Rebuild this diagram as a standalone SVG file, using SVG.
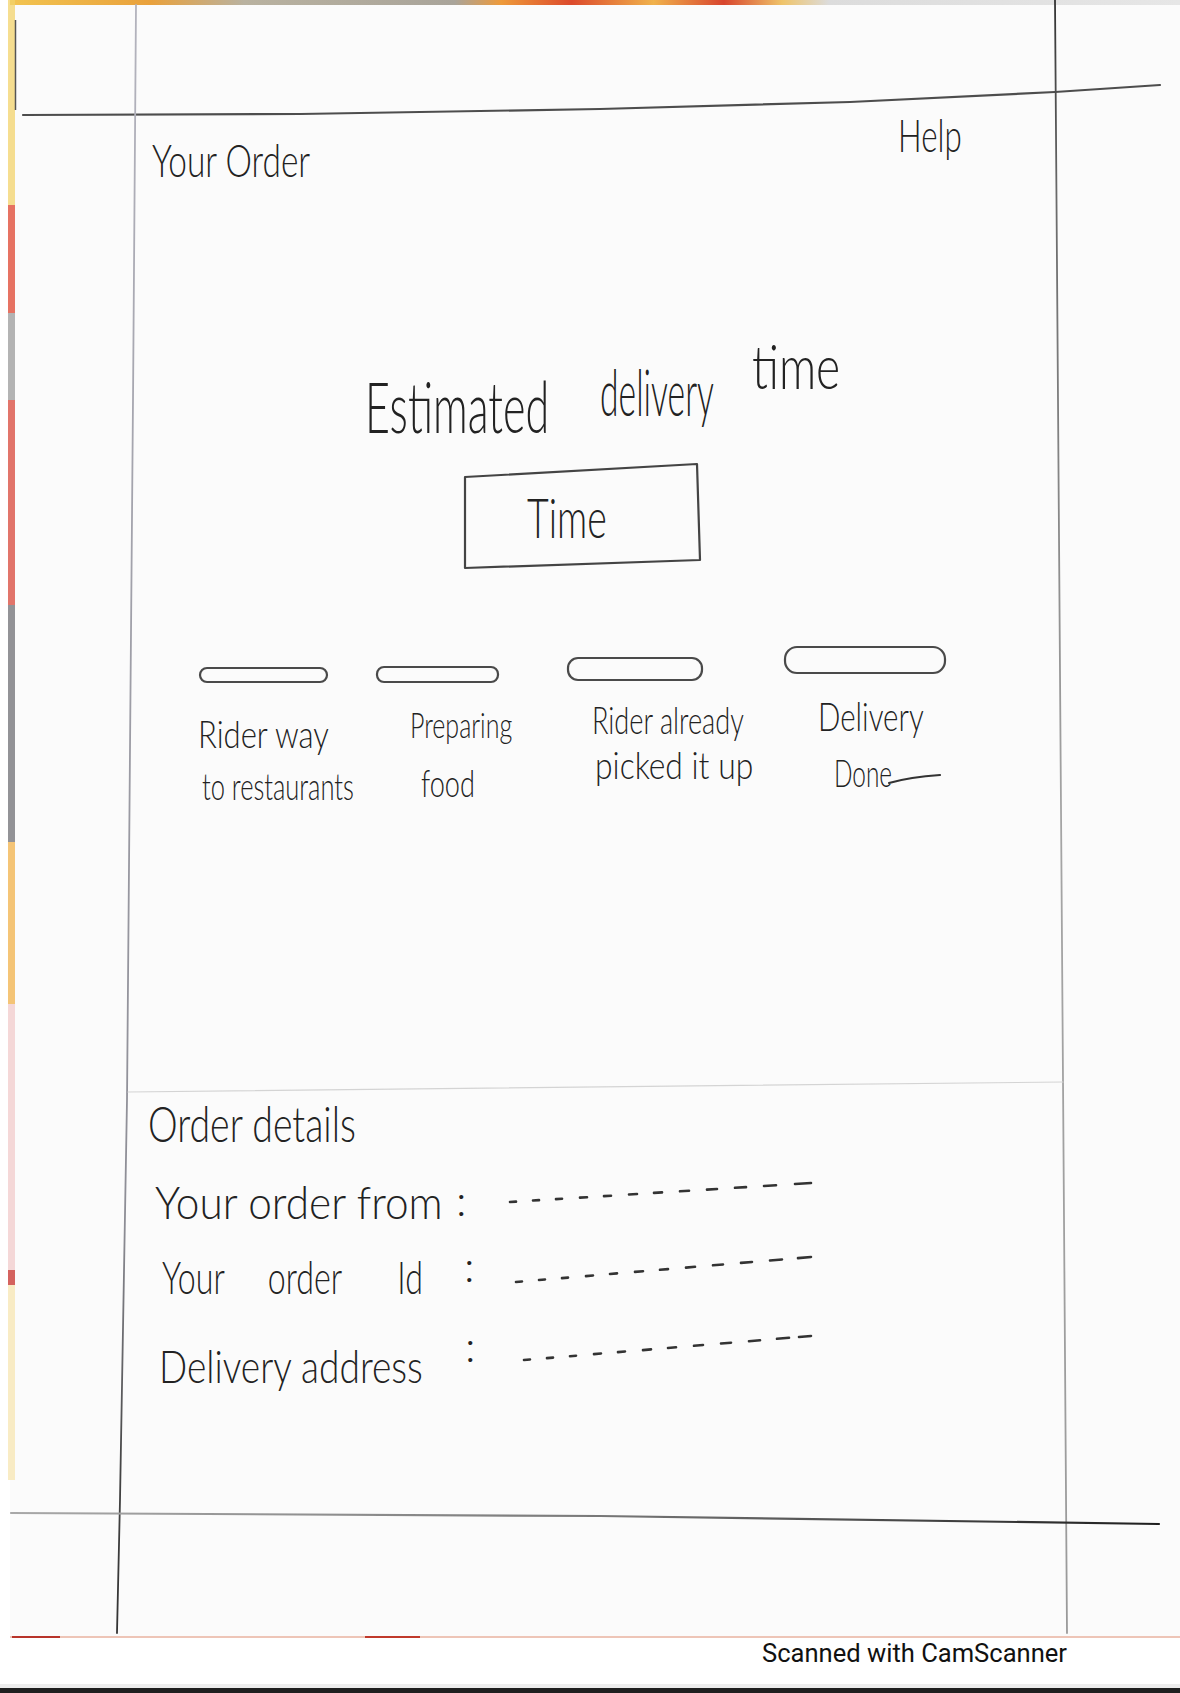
<svg xmlns="http://www.w3.org/2000/svg" width="1180" height="1693" viewBox="0 0 1180 1693">
  <defs>
    <linearGradient id="leftRule" x1="0" y1="0" x2="0" y2="1">
      <stop offset="0" stop-color="#b3b3bd"/>
      <stop offset="0.75" stop-color="#8d8d95"/>
      <stop offset="0.9" stop-color="#444"/>
      <stop offset="1" stop-color="#333"/>
    </linearGradient>
    <linearGradient id="rightRule" x1="0" y1="0" x2="0" y2="1">
      <stop offset="0" stop-color="#333"/>
      <stop offset="0.12" stop-color="#6a6a6a"/>
      <stop offset="0.5" stop-color="#a5a5a5"/>
      <stop offset="1" stop-color="#9a9a9a"/>
    </linearGradient>
    <linearGradient id="bottomRule" x1="0" y1="0" x2="1" y2="0">
      <stop offset="0" stop-color="#a8a8a8"/>
      <stop offset="0.5" stop-color="#7a7a7a"/>
      <stop offset="1" stop-color="#1e1e1e"/>
    </linearGradient>
    <linearGradient id="topEdge" x1="0" y1="0" x2="1" y2="0">
      <stop offset="0" stop-color="#f2c450"/>
      <stop offset="0.12" stop-color="#e9a13c"/>
      <stop offset="0.2" stop-color="#b9b2a0"/>
      <stop offset="0.38" stop-color="#a9a49a"/>
      <stop offset="0.42" stop-color="#ee9a3a"/>
      <stop offset="0.48" stop-color="#dc4a2c"/>
      <stop offset="0.55" stop-color="#f0b24c"/>
      <stop offset="0.61" stop-color="#d8452e"/>
      <stop offset="0.66" stop-color="#efc46a"/>
      <stop offset="0.7" stop-color="#dcdcdc"/>
      <stop offset="1" stop-color="#e6e6e6"/>
    </linearGradient>
  </defs>
  <style>
    .ink { font-family: Lato, "Open Sans", "DejaVu Sans", sans-serif; font-weight: 300; fill: #222; }
    .rule { fill: none; stroke-linecap: round; stroke-linejoin: round; }
    .pill { fill: none; stroke: #4a4a4a; stroke-width: 2.2; }
    .stroke { fill: none; stroke: #333; stroke-width: 2.2; stroke-linecap: round; }
    .dash { fill: none; stroke: #333; stroke-width: 2.6; stroke-linecap: round; }
    .edge { opacity: 0.75; }
  </style>

  <!-- paper -->
  <rect x="0" y="0" width="1180" height="1693" fill="#ffffff"/>
  <rect x="10" y="4" width="1170" height="1634" fill="#fbfbfb"/>

  <!-- scanned paper edges -->
  <g id="paper-edges">
    <rect x="10" y="0" width="1170" height="5" fill="url(#topEdge)"/>
    <g class="edge">
      <rect x="8" y="0" width="7" height="205" fill="#f3d36b"/>
      <rect x="8" y="205" width="7" height="108" fill="#e0452f"/>
      <rect x="8" y="313" width="7" height="87" fill="#9c9c9c"/>
      <rect x="8" y="400" width="7" height="205" fill="#d9473a"/>
      <rect x="8" y="605" width="7" height="237" fill="#707075"/>
      <rect x="8" y="842" width="7" height="162" fill="#f2b24a"/>
      <rect x="8" y="1004" width="7" height="266" fill="#f2cccc"/>
      <rect x="8" y="1270" width="7" height="15" fill="#c8302a"/>
      <rect x="8" y="1285" width="7" height="195" fill="#f7e6b2"/>
    </g>
    <line x1="15.5" y1="20" x2="15.5" y2="110" stroke="#555" stroke-width="1.5"/>
    <line x1="10" y1="1637" x2="1180" y2="1637" stroke="#eab3a0" stroke-width="1.6"/>
    <line x1="12" y1="1637" x2="60" y2="1637" stroke="#b8342a" stroke-width="2"/>
    <line x1="365" y1="1637" x2="420" y2="1637" stroke="#c0392b" stroke-width="2.2"/>
    <rect x="0" y="1684" width="1180" height="4" fill="#ededed"/>
    <rect x="0" y="1688" width="1180" height="5" fill="#1f1f1f"/>
  </g>

  <!-- page rules -->
  <g id="page-rules">
    <polyline class="rule" points="23,115 300,114 600,109 850,102 1055,92 1160,85" stroke="#4d4d4d" stroke-width="2.2"/>
    <polyline class="rule" points="136,5 133,400 127,1100 120,1500 117,1633" stroke="url(#leftRule)" stroke-width="1.8"/>
    <polyline class="rule" points="1055,0 1058,400 1063,1080 1067,1633" stroke="url(#rightRule)" stroke-width="1.8"/>
    <polyline class="rule" points="11,1513 600,1516 1159,1524" stroke="url(#bottomRule)" stroke-width="2.2"/>
    <line class="rule" x1="128" y1="1092" x2="1063" y2="1082" stroke="#d4d4d4" stroke-width="1.2"/>
  </g>

  <!-- header -->
  <g id="header">
    <text class="ink" x="152" y="177" font-size="46" transform="translate(152 0) scale(0.7 1) translate(-152 0)" textLength="226" lengthAdjust="spacingAndGlyphs">Your Order</text>
    <text class="ink" x="898" y="152" font-size="46" transform="translate(898 0) scale(0.7 1) translate(-898 0)" textLength="91" lengthAdjust="spacingAndGlyphs">Help</text>
  </g>

  <!-- estimated delivery time -->
  <g id="eta">
    <text class="ink" x="365" y="433" font-size="70" transform="translate(365 0) scale(0.6 1) translate(-365 0)" textLength="307" lengthAdjust="spacingAndGlyphs">Estimated</text>
    <text class="ink" x="600" y="416" font-size="66" transform="translate(600 0) scale(0.6 1) translate(-600 0)" textLength="190" lengthAdjust="spacingAndGlyphs">delivery</text>
    <text class="ink" x="752" y="389" font-size="62" transform="translate(752 0) scale(0.6 1) translate(-752 0)" textLength="147" lengthAdjust="spacingAndGlyphs">time</text>
  </g>

  <g id="time-box">
    <polygon points="465,477 697,464 700,560 465,568" fill="none" stroke="#444" stroke-width="2.2" stroke-linejoin="round"/>
    <text class="ink" x="527" y="538" font-size="56" transform="translate(527 0) scale(0.7 1) translate(-527 0)" textLength="114" lengthAdjust="spacingAndGlyphs">Time</text>
  </g>

  <!-- order progress steps -->
  <g id="step-rider-way">
    <rect class="pill" x="200" y="668" width="127" height="14" rx="7"/>
    <text class="ink" x="198" y="748" font-size="38" transform="translate(198 0) scale(0.7 1) translate(-198 0)" textLength="187" lengthAdjust="spacingAndGlyphs">Rider way</text>
    <text class="ink" x="202" y="800" font-size="38" transform="translate(202 0) scale(0.7 1) translate(-202 0)" textLength="217" lengthAdjust="spacingAndGlyphs">to restaurants</text>
  </g>
  <g id="step-preparing">
    <rect class="pill" x="377" y="667" width="121" height="15" rx="7"/>
    <text class="ink" x="410" y="738" font-size="36" transform="translate(410 0) scale(0.7 1) translate(-410 0)" textLength="146" lengthAdjust="spacingAndGlyphs">Preparing</text>
    <text class="ink" x="421" y="797" font-size="38" transform="translate(421 0) scale(0.7 1) translate(-421 0)" textLength="77" lengthAdjust="spacingAndGlyphs">food</text>
  </g>
  <g id="step-picked-up">
    <rect class="pill" x="568" y="658" width="134" height="22" rx="10"/>
    <text class="ink" x="592" y="734" font-size="38" transform="translate(592 0) scale(0.7 1) translate(-592 0)" textLength="217" lengthAdjust="spacingAndGlyphs">Rider already</text>
    <text class="ink" x="595" y="779" font-size="38" transform="translate(595 0) scale(0.7 1) translate(-595 0)" textLength="226" lengthAdjust="spacingAndGlyphs">picked it up</text>
  </g>
  <g id="step-delivered">
    <rect class="pill" x="785" y="647" width="160" height="26" rx="12"/>
    <text class="ink" x="818" y="731" font-size="40" transform="translate(818 0) scale(0.7 1) translate(-818 0)" textLength="151" lengthAdjust="spacingAndGlyphs">Delivery</text>
    <text class="ink" x="834" y="787" font-size="38" transform="translate(834 0) scale(0.7 1) translate(-834 0)" textLength="83" lengthAdjust="spacingAndGlyphs">Done</text>
    <path class="stroke" d="M889 783 Q910 777 940 775"/>
  </g>

  <!-- order details -->
  <g id="order-details">
    <text class="ink" x="148" y="1142" font-size="50" transform="translate(148 0) scale(0.7 1) translate(-148 0)" textLength="297" lengthAdjust="spacingAndGlyphs">Order details</text>

    <g id="row-from">
      <text class="ink" x="155" y="1219" font-size="46" transform="translate(155 0) scale(0.7 1) translate(-155 0)" textLength="411" lengthAdjust="spacingAndGlyphs">Your order from</text>
      <text class="ink" x="456" y="1216" font-size="44">:</text>
      <path class="dash" d="M510 1202 l6 -0.4 M533 1200.5 l6 -0.4 M556 1199.1 l6 -0.4 M580 1197.6 l7 -0.4 M604 1196.1 l7 -0.4 M629 1194.5 l8 -0.5 M654 1192.9 l8 -0.5 M680 1191.3 l9 -0.6 M707 1189.6 l10 -0.6 M735 1187.8 l11 -0.7 M764 1186 l12 -0.8 M795 1184 l16 -1"/>
    </g>

    <g id="row-id">
      <text class="ink" y="1294" font-size="46" transform="translate(160 0) scale(0.7 1) translate(-160 0)"><tspan x="163">Your</tspan> <tspan x="314">order</tspan> <tspan x="499">Id</tspan></text>
      <text class="ink" x="464" y="1282" font-size="44">:</text>
      <path class="dash" d="M516 1282 l6 -0.5 M539 1280 l6 -0.5 M562 1278.1 l6 -0.5 M586 1276.1 l7 -0.6 M610 1274 l7 -0.6 M635 1271.9 l8 -0.7 M660 1269.8 l8 -0.7 M686 1267.6 l9 -0.8 M713 1265.3 l10 -0.8 M741 1262.9 l11 -0.9 M770 1260.5 l12 -1 M798 1258.1 l13 -1.1"/>
    </g>

    <g id="row-address">
      <text class="ink" x="159" y="1383" font-size="46" transform="translate(159 0) scale(0.7 1) translate(-159 0)" textLength="377" lengthAdjust="spacingAndGlyphs">Delivery address</text>
      <text class="ink" x="465" y="1362" font-size="44">:</text>
      <path class="dash" d="M524 1360 l6 -0.5 M547 1358.1 l6 -0.5 M570 1356.2 l6 -0.5 M594 1354.1 l7 -0.6 M618 1352.1 l7 -0.6 M643 1350.1 l8 -0.7 M668 1348 l8 -0.7 M694 1345.8 l9 -0.8 M721 1343.5 l10 -0.8 M749 1341.2 l11 -0.9 M777 1338.8 l12 -1 M799 1337 l12 -1"/>
    </g>
  </g>

  <!-- scanner footer -->
  <text x="762" y="1662" font-family="Roboto, 'Liberation Sans', sans-serif" font-size="25" fill="#111" textLength="305" lengthAdjust="spacingAndGlyphs">Scanned with CamScanner</text>
</svg>
